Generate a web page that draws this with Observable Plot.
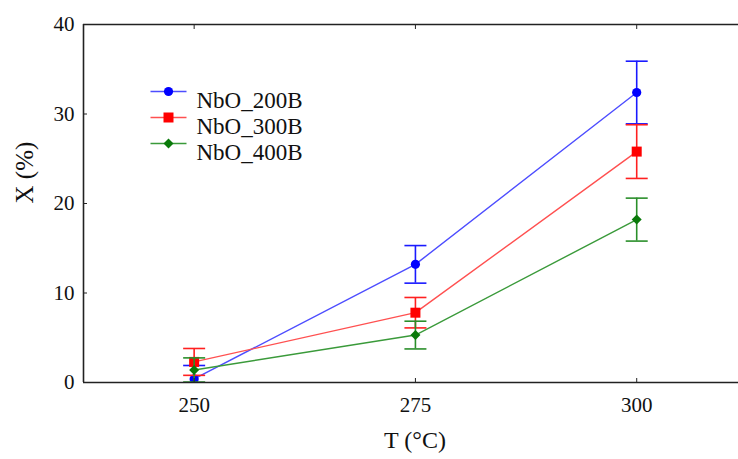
<!DOCTYPE html>
<html>
<head>
<meta charset="utf-8">
<script src="https://cdn.jsdelivr.net/npm/d3@7"></script>
<script src="https://cdn.jsdelivr.net/npm/@observablehq/plot@0.6"></script>
<style>
  body { margin: 0; background: #fff; }
  #chart { width: 738px; height: 459px; }
</style>
</head>
<body>
<div id="chart"></div>
<script>
// Conversion X (%) versus reaction temperature for three catalysts
const temperatures = [250, 275, 300];
const seriesNames = ["NbO_200B", "NbO_300B", "NbO_400B"];
const conv200 = [0.4, 13.2, 32.4];
const err200 = [1.5, 2.1, 3.5];
const conv300 = [2.3, 7.8, 25.8];
const err300 = [1.5, 1.7, 3.0];
const conv400 = [1.4, 5.3, 18.2];
const err400 = [1.35, 1.55, 2.4];
const xTicks = [250, 275, 300];
const yTicks = [0, 10, 20, 30, 40];

const convs = [conv200, conv300, conv400];
const errs = [err200, err300, err400];

// marker shapes; the size passed in is π·r², so r is the half-extent
const half = (size) => Math.sqrt(size / Math.PI);
const circle = { draw(ctx, size) { const r = half(size); ctx.moveTo(r, 0); ctx.arc(0, 0, r, 0, 2 * Math.PI); } };
const square = { draw(ctx, size) { const r = half(size); ctx.rect(-r, -r, 2 * r, 2 * r); } };
const diamond = { draw(ctx, size) { const r = half(size); ctx.moveTo(0, -r); ctx.lineTo(r, 0); ctx.lineTo(0, r); ctx.lineTo(-r, 0); ctx.closePath(); } };
const hbar = { draw(ctx, size) { const r = half(size); ctx.moveTo(-r, 0); ctx.lineTo(r, 0); } };

const styles = [
  { line: "#4d4dff", bar: "#1a1aff", mark: "#0000ff", symbol: circle, r: 4.6 },
  { line: "#ff5050", bar: "#ff2020", mark: "#ff0000", symbol: square, r: 5 },
  { line: "#3a9a3a", bar: "#2a8f2a", mark: "#0a7a0a", symbol: diamond, r: 5 }
];

const series = seriesNames.map((name, i) =>
  temperatures.map((T, j) => ({ series: name, T, X: convs[i][j], err: errs[i][j] }))
);

const xDomain = [237.5, 311.5];
const marginLeft = 83, marginTop = 24, marginBottom = 77;
const serif = "Liberation Serif, Times New Roman, Times, DejaVu Serif, serif";

const marks = [];

// connecting lines
series.forEach((rows, i) => {
  marks.push(Plot.line(rows, { x: "T", y: "X", stroke: styles[i].line, strokeWidth: 1.4, clip: true }));
});

// error bars, caps and markers
series.forEach((rows, i) => {
  const s = styles[i];
  marks.push(Plot.ruleX(rows, { x: "T", y1: d => d.X - d.err, y2: d => d.X + d.err, stroke: s.bar, strokeWidth: 1.6, clip: true }));
  marks.push(Plot.dot(rows, { x: "T", y: d => d.X + d.err, symbol: hbar, r: 11, stroke: s.bar, strokeWidth: 1.6, clip: true }));
  marks.push(Plot.dot(rows, { x: "T", y: d => d.X - d.err, symbol: hbar, r: 11, stroke: s.bar, strokeWidth: 1.6, clip: true }));
  marks.push(Plot.dot(rows, { x: "T", y: "X", symbol: s.symbol, r: s.r, fill: s.mark, stroke: "none", clip: true }));
});

// legend
seriesNames.forEach((name, i) => {
  const s = styles[i];
  const dy = 67 + i * 26;
  marks.push(Plot.dot([name], { frameAnchor: "top-left", dx: 168 - marginLeft, dy, symbol: hbar, r: 18, stroke: s.line, strokeWidth: 1.4 }));
  marks.push(Plot.dot([name], { frameAnchor: "top-left", dx: 168 - marginLeft, dy, symbol: s.symbol, r: s.r, fill: s.mark, stroke: "none" }));
  marks.push(Plot.text([name], { frameAnchor: "top-left", dx: 196 - marginLeft, dy, text: d => d, textAnchor: "start", fontSize: 23, fontFamily: serif, fill: "#111" }));
});

// frame: left, top and bottom lines
marks.push(Plot.ruleY([yTicks[0], yTicks[yTicks.length - 1]], { stroke: "#222", strokeWidth: 1.6 }));
marks.push(Plot.ruleX([xDomain[0]], { stroke: "#222", strokeWidth: 1.6 }));

// inward ticks
marks.push(Plot.axisY({ ticks: yTicks, tickSize: 4, dx: 4, tickFormat: () => "", label: null, stroke: "#222" }));
marks.push(Plot.axisX({ anchor: "bottom", ticks: xTicks, tickSize: 4, dy: -4, tickFormat: () => "", label: null, stroke: "#222" }));
marks.push(Plot.axisX({ anchor: "top", ticks: xTicks, tickSize: 4, dy: 4, tickFormat: () => "", label: null, stroke: "#222" }));

// tick labels
marks.push(Plot.axisY({ ticks: yTicks, tickSize: 0, tickPadding: 9, fontSize: 21, fontFamily: serif, label: null, fill: "#111" }));
marks.push(Plot.axisX({ ticks: xTicks, tickSize: 0, tickPadding: 15, fontSize: 21, fontFamily: serif, label: null, fill: "#111" }));

// axis titles
marks.push(Plot.text(["X (%)"], { frameAnchor: "left", dx: -(marginLeft - 24), rotate: -90, fontSize: 25, fontFamily: serif, fill: "#111" }));
marks.push(Plot.text(["T (°C)"], { frameAnchor: "bottom", dx: 4, dy: 65, fontSize: 24, fontFamily: serif, fill: "#111" }));

const chart = Plot.plot({
  width: 738,
  height: 459,
  marginLeft,
  marginRight: 0,
  marginTop,
  marginBottom,
  style: { background: "#fff", color: "#111", fontFamily: serif },
  x: { domain: xDomain },
  y: { domain: [yTicks[0], yTicks[yTicks.length - 1]] },
  marks
});

document.getElementById("chart").appendChild(chart);
</script>
</body>
</html>
